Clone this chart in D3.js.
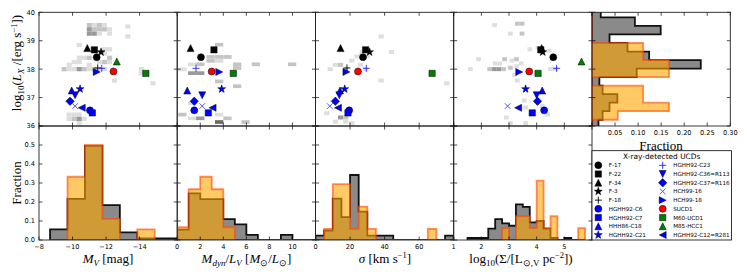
<!DOCTYPE html>
<html>
<head>
<meta charset="utf-8">
<script src="https://cdn.jsdelivr.net/npm/d3@7"></script>
<style>
body { margin: 0; background: #fff; }
svg { display: block; }
</style>
</head>
<body>
<script>
// ---------------- data ----------------
var ucdNames = ["F-17", "F-22", "F-34", "F-3", "F-18", "HGHH92-C6", "HGHH92-C7", "HHH86-C18", "HGHH92-C21",
                "HGHH92-C23", "HGHH92-C36=R113", "HGHH92-C37=R116", "HCH99-16", "HCH99-18", "SUCD1",
                "M60-UCD1", "M85-HCC1", "HGHH92-C12=R281"];
var ucdMV    = [-11.44, -11.30, -10.88, -11.70, -11.50, -11.04, -11.18, -9.95, -10.45,
                -11.74, -10.15, -9.85, -10.15, -11.44, -12.44, -14.37, -12.64, -10.55];
var ucdML    = [2.06, 3.19, 1.16, null, null, 1.48, 2.70, 0.87, 3.86,
                1.63, 2.17, 1.48, 2.17, 3.65, 2.99, 4.87, null, 3.07];
var ucdSigma = [27.5, 29.0, 14.5, 31.3, 18.2, 19.5, 18.8, 14.2, 16.9,
                29.4, 13.8, 11.5, 8.3, 17.9, 24.6, 67.5, null, 13.0];
var ucdLogSB = [4.60, 4.15, 4.18, 4.22, null, 4.27, 3.84, 4.20, 3.60,
                4.72, 4.00, 4.03, 2.95, 3.37, 3.73, 4.05, 5.62, 3.33];
var ucdLX    = [38.42, 38.68, 38.74, 38.60, 38.04, 36.55, 36.46, 37.25, 37.30,
                38.03, 37.08, 36.87, 36.70, 37.90, 37.92, 37.85, 38.27, 36.64];

// histograms: gray = all UCDs, orange = X-ray detected
var mvEdges = [-8.66, -9.70, -10.74, -11.78, -12.82, -13.86, -14.90, -15.94, -16.98];
var mvAll   = [0.056, 0.216, 0.495, 0.184, 0.040, 0.009, 0.009, 0.009];
var mvXray  = [0, 0.333, 0.5, 0.111, 0, 0.056, 0, 0];

var mlEdges = [0, 1, 2, 3, 4, 5, 6, 7, 8, 9, 10, 11, 12];
var mlAll   = [0.055, 0.245, 0.215, 0.215, 0.110, 0.082, 0.027, 0, 0, 0.027, 0, 0];
var mlXray  = [0.067, 0.267, 0.333, 0.267, 0.067, 0, 0, 0, 0, 0, 0, 0];

var sigEdges = [0, 5, 10, 15, 20, 25, 30, 35, 40, 45, 50, 55, 60, 65, 70, 75, 80];
var sigAll   = [0.023, 0.050, 0.218, 0.120, 0.342, 0.149, 0.023, 0.023, 0.023, 0, 0, 0, 0, 0, 0, 0.023];
var sigXray  = [0, 0.059, 0.294, 0.294, 0.059, 0.176, 0.059, 0, 0, 0, 0, 0, 0, 0.059, 0, 0];

var sbEdges = [1.5, 1.75, 2.0, 2.25, 2.5, 2.75, 3.0, 3.25, 3.5, 3.75, 4.0, 4.25, 4.5, 4.75, 5.0, 5.25, 5.5, 5.75];
var sbAll   = [0.0105, 0.0105, 0.0105, 0.060, 0.110, 0.088, 0.075, 0.188, 0.174, 0.093, 0.100, 0.060, 0.0105, 0, 0.0105, 0, 0];
var sbXray  = [0, 0, 0, 0, 0, 0.0625, 0, 0.125, 0.125, 0.0625, 0.3125, 0.0625, 0.125, 0, 0, 0, 0.0625];

var lxEdges = [35.92, 36.22, 36.52, 36.82, 37.12, 37.42, 37.72, 38.02, 38.32, 38.62, 38.92, 39.22, 39.52, 39.82, 40.12];
var lxAll   = [0.014, 0.023, 0.038, 0.055, 0.023, 0.016, 0.097, 0.236, 0.124, 0.077, 0.038, 0.149, 0.093, 0.019];
var lxXray  = [0, 0.056, 0.167, 0.111, 0.111, 0, 0.167, 0.167, 0.111, 0.111, 0, 0, 0, 0];

// background 2D density of all UCDs: [x, logLX, level]
var bgMVBin = [0.3, 0.15];
var bgMV = [[-11.0,39.55,2],[-11.3,39.55,1],[-11.6,39.55,2],[-11.9,39.55,1],
  [-11.0,39.4,3],[-11.3,39.4,2],[-11.6,39.4,2],[-11.9,39.4,2],[-12.2,39.4,1],
  [-11.0,39.25,3],[-11.3,39.25,3],[-11.6,39.25,1],[-12.2,39.25,1],
  [-13.3,39.5,1],[-13.3,39.15,1],[-10.4,38.85,1],[-11.9,38.7,1],[-12.2,38.7,1],
  [-10.4,38.4,1],[-10.7,38.4,1],[-11.0,38.4,2],[-11.9,38.55,1],[-12.2,38.4,2],
  [-10.1,38.25,1],[-10.4,38.25,1],[-11.6,38.25,1],[-11.9,38.25,2],[-12.2,38.25,1],
  [-9.8,38.15,1],[-11.0,38.15,1],
  [-9.5,38.0,2],[-9.8,38.0,1],[-10.1,38.0,1],[-10.4,38.0,3],[-10.7,38.0,2],[-11.0,38.0,1],
  [-11.3,38.0,2],[-11.6,38.0,1],[-11.9,38.0,1],
  [-14.1,38.0,1],[-14.1,37.85,1],[-12.5,37.6,1],[-14.8,37.5,1],
  [-9.8,36.4,1],[-10.1,36.4,1],[-10.4,36.4,1],[-9.8,36.25,1],[-10.1,36.25,2],[-10.4,36.25,3],
  [-10.7,36.25,1],[-10.4,36.1,1]];
var bgMLBin = [0.72, 0.13];
var bgML = [[3.64,38.86,2],[2.9,38.43,2],[3.64,38.43,2],[4.36,38.43,2],[2.9,38.29,2],[3.64,38.29,1],
  [1.3,38.17,1],[2.0,38.17,2],[0.45,37.99,1],[5.2,38.17,2],[5.2,38.04,2],[1.3,37.86,3],[2.0,37.86,3],
  [6.83,38.17,2],[9.97,38.17,2],[3.64,37.57,2],[5.2,37.4,2],[1.3,36.8,1],
  [0.45,36.4,2],[1.3,36.27,1],[2.0,36.27,3],[3.64,36.4,1],[4.36,36.27,2],[3.64,36.14,4],[5.93,36.14,2]];
var bgSigmaBin = [3, 0.14];
var bgSigma = [[38,39.15,1],[44,38.6,1],[27,38.6,1],[30,38.45,1],[24,38.45,1],[21,38.3,1],
  [14.5,38.15,2],[11.5,38.15,1],[17.5,38.0,1],[8.5,38.0,1],[29,38.0,1],[26,38.15,1],
  [38,37.6,1],[76,37.5,1],[6.5,36.45,1],[14.5,36.3,3],[17.5,36.3,2],[21,36.1,1],[11.5,36.15,1],[17.5,36.15,1]];
var bgLogSBBin = [0.17, 0.14];
var bgLogSB = [[2.48,39.55,1],[3.05,39.25,1],[3.3,39.6,2],[3.47,39.6,2],[3.47,39.25,2],
  [1.9,38.35,1],[2.5,38.2,1],[2.67,38.2,1],[2.84,38.35,2],
  [1.6,38.0,1],[2.3,38.0,2],[2.47,38.0,3],[2.64,38.0,3],[2.81,38.0,2],
  [3.05,38.05,2],[3.2,37.8,1],[3.1,38.3,1],[3.27,38.35,2],[3.44,38.2,1],[3.27,38.1,1],
  [3.75,38.7,1],[4.05,38.75,1],[4.45,38.65,1],[4.5,38.0,1],[4.67,38.0,1],[3.3,37.6,1],
  [3.55,36.9,1],[3.6,36.65,1],[4.2,36.7,1],[4.4,36.4,1],[2.9,36.3,1],[3.05,36.1,1],[3.6,36.1,1]];

// tick labels
var lxTicks = [36, 37, 38, 39, 40];
var frTicks = [0, 0.1, 0.2, 0.3, 0.4, 0.5];
var mvTicks = [-8, -10, -12, -14];
var mlTicks = [0, 2, 4, 6, 8, 10];
var sigTicks = [0, 20, 40, 60];
var sbTicks = [1, 2, 3, 4, 5];
var frHTicks = [0.05, 0.10, 0.15, 0.20, 0.25, 0.30];

// ---------------- styles ----------------
var ucdStyle = [["circle","#000"],["square","#000"],["triangle","#000"],["star","#000"],["plus","#000"],
  ["circle","#00f"],["square","#00f"],["triangle","#00f"],["star","#00f"],
  ["plus","#22f"],["tridown","#00f"],["diamond","#00f"],["x","#44f"],["triright","#00f"],
  ["circle","#f00"],["square","#008000"],["triangle","#008000"],["trileft","#00f"]];
var shade = [null, "#dedede", "#c4c4c4", "#999999", "#6a6a6a"];

var svg = d3.select("body").append("svg").attr("width", 747).attr("height", 280);

//layout
var colX = [39, 177.2, 315.5, 453.7, 592, 730.3];
var rowY = [12.3, 126, 240];
var tickLen = 3.5;

var xMV = d3.scaleLinear().domain([-8, -16.24]).range([colX[0], colX[1]]);
var xML = d3.scaleLinear().domain([0, 12]).range([colX[1], colX[2]]);
var xSig = d3.scaleLinear().domain([0, 80]).range([colX[2], colX[3]]);
var xSB = d3.scaleLinear().domain([1, 6]).range([colX[3], colX[4]]);
var xFr = d3.scaleLinear().domain([0, 0.3]).range([colX[4], colX[5]]);
var yLX = d3.scaleLinear().domain([36, 40]).range([rowY[1], rowY[0]]);
var yFr = d3.scaleLinear().domain([0, 0.6]).range([rowY[2], rowY[1]]);

var defs = svg.append("defs");
function clipFor(id, x0, y0, x1, y1){
    defs.append("clipPath").attr("id", id).append("rect")
        .attr("x", x0).attr("y", y0).attr("width", x1 - x0).attr("height", y1 - y0);
    return svg.append("g").attr("clip-path", "url(#" + id + ")");
}

function markerPath(type, s){
    var h = s / 2, p = "";
    if(type == "circle"){
        return d3.symbol(d3.symbolCircle, Math.PI * h * h)();
    }
    if(type == "square"){
        var a = s * 0.45;
        return "M" + (-a) + "," + (-a) + "H" + a + "V" + a + "H" + (-a) + "Z";
    }
    if(type == "diamond"){
        var d = s * 0.6;
        return "M0," + (-d) + "L" + d + ",0L0," + d + "L" + (-d) + ",0Z";
    }
    if(type == "star"){
        var R = s * 0.6, r = R * 0.4;
        for(var k = 0; k < 10; k++){
            var rr = (k % 2 == 0) ? R : r;
            var ang = -Math.PI / 2 + k * Math.PI / 5;
            p += (k == 0 ? "M" : "L") + (rr * Math.cos(ang)).toFixed(2) + "," + (rr * Math.sin(ang)).toFixed(2);
        }
        return p + "Z";
    }
    if(type == "plus"){
        return "M" + (-h) + ",0H" + h + "M0," + (-h) + "V" + h;
    }
    if(type == "x"){
        var q = s * 0.4;
        return "M" + (-q) + "," + (-q) + "L" + q + "," + q + "M" + (-q) + "," + q + "L" + q + "," + (-q);
    }
    //triangles
    var t = s * 0.5;
    return "M0," + (-t) + "L" + t + "," + t + "L" + (-t) + "," + t + "Z";
}
var triRot = {triangle: 0, tridown: 180, triright: 90, trileft: -90};

function drawMarker(g, idx, x, y){
    var st = ucdStyle[idx], type = st[0], col = st[1];
    var rot = triRot[type] !== undefined ? " rotate(" + triRot[type] + ")" : "";
    var m = g.append("path")
        .attr("d", markerPath(type, 7))
        .attr("transform", "translate(" + x + "," + y + ")" + rot);
    if(type == "plus" || type == "x"){
        m.attr("fill", "none").attr("stroke", col).attr("stroke-width", 0.9);
    } else {
        m.attr("fill", col).attr("stroke", "#000").attr("stroke-width", 0.5);
    }
}

function vHistPath(edges, vals, xs, ys){
    var p = d3.path();
    p.moveTo(xs(edges[0]), ys(0));
    for(var i = 0; i < vals.length; i++){
        p.lineTo(xs(edges[i]), ys(vals[i]));
        p.lineTo(xs(edges[i + 1]), ys(vals[i]));
    }
    p.lineTo(xs(edges[vals.length]), ys(0));
    p.closePath();
    return p.toString();
}
function hHistPath(edges, vals, xs, ys){
    var p = d3.path();
    p.moveTo(xs(0), ys(edges[0]));
    for(var i = 0; i < vals.length; i++){
        p.lineTo(xs(vals[i]), ys(edges[i]));
        p.lineTo(xs(vals[i]), ys(edges[i + 1]));
    }
    p.lineTo(xs(0), ys(edges[vals.length]));
    p.closePath();
    return p.toString();
}
function drawHists(g, dAll, dX){
    g.append("path").attr("d", dAll)
        .attr("fill", "#8a8a8a").attr("stroke", "#111").attr("stroke-width", 1.8);
    g.append("path").attr("d", dX)
        .attr("fill", "#ffa500").attr("fill-opacity", 0.6)
        .attr("stroke", "#ff4500").attr("stroke-opacity", 0.6).attr("stroke-width", 1.8);
}

function drawFrame(xs, ys, xt, yt, x0, x1, y0, y1){
    var g = svg.append("g").attr("stroke", "#000").attr("stroke-width", 0.7);
    xt.forEach(function(v){
        var x = xs(v);
        g.append("line").attr("x1", x).attr("x2", x).attr("y1", y1).attr("y2", y1 - tickLen);
        g.append("line").attr("x1", x).attr("x2", x).attr("y1", y0).attr("y2", y0 + tickLen);
    });
    yt.forEach(function(v){
        var y = ys(v);
        g.append("line").attr("x1", x0).attr("x2", x0 + tickLen).attr("y1", y).attr("y2", y);
        g.append("line").attr("x1", x1).attr("x2", x1 - tickLen).attr("y1", y).attr("y2", y);
    });
    svg.append("rect").attr("x", x0).attr("y", y0).attr("width", x1 - x0).attr("height", y1 - y0)
        .attr("fill", "none").attr("stroke", "#222").attr("stroke-width", 0.9);
}

function fmtMinus(v){ return String(v).replace("-", "\u2212"); }

var topPanels = [
    {xs: xMV, bg: bgMV, bin: bgMVBin, vals: ucdMV, edges: mvEdges, all: mvAll, xr: mvXray, ticks: [-8,-10,-12,-14], lab: mvTicks, fmt: function(v){ return fmtMinus(v); }},
    {xs: xML, bg: bgML, bin: bgMLBin, vals: ucdML, edges: mlEdges, all: mlAll, xr: mlXray, ticks: [0,2,4,6,8,10,12], lab: mlTicks, fmt: String},
    {xs: xSig, bg: bgSigma, bin: bgSigmaBin, vals: ucdSigma, edges: sigEdges, all: sigAll, xr: sigXray, ticks: [0,20,40,60,80], lab: sigTicks, fmt: String},
    {xs: xSB, bg: bgLogSB, bin: bgLogSBBin, vals: ucdLogSB, edges: sbEdges, all: sbAll, xr: sbXray, ticks: [1,2,3,4,5,6], lab: sbTicks, fmt: String}
];

topPanels.forEach(function(P, i){
    var x0 = colX[i], x1 = colX[i + 1];
    //scatter panel
    var g = clipFor("ct" + i, x0, rowY[0], x1, rowY[1]);
    P.bg.forEach(function(c){
        var xa = P.xs(c[0] - P.bin[0] / 2), xb = P.xs(c[0] + P.bin[0] / 2);
        var ya = yLX(c[1] + P.bin[1] / 2), yb = yLX(c[1] - P.bin[1] / 2);
        g.append("rect").attr("x", Math.min(xa, xb)).attr("y", ya)
            .attr("width", Math.abs(xb - xa)).attr("height", yb - ya)
            .attr("fill", shade[c[2]]);
    });
    P.vals.forEach(function(v, j){
        if(v === null) return;
        drawMarker(g, j, P.xs(v), yLX(ucdLX[j]));
    });
    drawFrame(P.xs, yLX, P.ticks, lxTicks, x0, x1, rowY[0], rowY[1]);

    //histogram panel
    var h = clipFor("cb" + i, x0, rowY[1], x1, rowY[2]);
    drawHists(h, vHistPath(P.edges, P.all, P.xs, yFr), vHistPath(P.edges, P.xr, P.xs, yFr));
    drawFrame(P.xs, yFr, P.ticks, frTicks.concat([0.6]), x0, x1, rowY[1], rowY[2]);

    svg.append("g").selectAll("text").data(P.lab).enter().append("text")
        .attr("x", function(d){ return P.xs(d); })
        .attr("y", 249.3)
        .attr("text-anchor", "middle")
        .attr("font-family", "DejaVu Sans").attr("font-size", 6.6)
        .text(P.fmt);
});

//right marginal histogram of L_X
var gr = clipFor("cr", colX[4], rowY[0], colX[5], rowY[1]);
drawHists(gr, hHistPath(lxEdges, lxAll, xFr, yLX), hHistPath(lxEdges, lxXray, xFr, yLX));
drawFrame(xFr, yLX, [0].concat(frHTicks), lxTicks, colX[4], colX[5], rowY[0], rowY[1]);
svg.append("g").selectAll("text").data(frHTicks).enter().append("text")
    .attr("x", function(d){ return xFr(d); })
    .attr("y", 135)
    .attr("text-anchor", "middle")
    .attr("font-family", "DejaVu Sans").attr("font-size", 6.6)
    .text(function(d){ return d.toFixed(2); });

//y tick labels
svg.append("g").selectAll("text").data(lxTicks).enter().append("text")
    .attr("x", 35).attr("y", function(d){ return yLX(d); }).attr("dy", "0.36em")
    .attr("text-anchor", "end")
    .attr("font-family", "DejaVu Sans").attr("font-size", 6.6)
    .text(function(d){ return d; });
svg.append("g").selectAll("text").data(frTicks).enter().append("text")
    .attr("x", 35).attr("y", function(d){ return yFr(d); }).attr("dy", "0.36em")
    .attr("text-anchor", "end")
    .attr("font-family", "DejaVu Sans").attr("font-size", 6.6)
    .text(function(d){ return d.toFixed(1); });

//math-style axis labels
function mathLabel(x, y, parts, rotate){
    var t = svg.append("text")
        .attr("transform", "translate(" + x + "," + y + ")" + (rotate ? " rotate(-90)" : ""))
        .attr("text-anchor", "middle")
        .attr("font-family", "Liberation Serif, serif").attr("font-size", 13);
    var cur = 0;
    parts.forEach(function(p){
        var mode = p[1], off = 0, fs = 13;
        if(mode == "sub" || mode == "subi"){ off = 3.2; fs = 9; }
        if(mode == "sup"){ off = -4.2; fs = 8.5; }
        var s = t.append("tspan").attr("dy", off - cur).attr("font-size", fs).text(p[0]);
        if(mode == "i" || mode == "subi") s.attr("font-style", "italic");
        cur = off;
    });
    if(cur != 0) t.append("tspan").attr("dy", -cur).text("\u200b");
}

mathLabel(21, 63, [["log","n"],["10","sub"],["(","n"],["L","i"],["X","subi"],[" /[erg s","n"],["\u22121","sup"],["])","n"]], true);
mathLabel(21, 183, [["Fraction","n"]], true);
mathLabel(108, 262.5, [["M","i"],["V","subi"],[" [mag]","n"]], false);
mathLabel(246.5, 262.5, [["M","i"],["dyn","subi"],["/","n"],["L","i"],["V","subi"],[" [","n"],["M","i"],["\u2299","sub"],["/","n"],["L","i"],["\u2299","sub"],["]","n"]], false);
mathLabel(385, 262.5, [["\u03c3","i"],[" [km s","n"],["\u22121","sup"],["]","n"]], false);
mathLabel(521, 262.5, [["log","n"],["10","sub"],["(\u03a3/[L","n"],["\u2299,V","sub"],[" pc","n"],["\u22122","sup"],["])","n"]], false);
mathLabel(661, 149.5, [["Fraction","n"]], false);

//legend
var lg = svg.append("g");
lg.append("rect").attr("x", 592).attr("y", 150.7).attr("width", 139.5).attr("height", 89.3)
    .attr("fill", "#fff").attr("stroke", "#000").attr("stroke-width", 0.8);
lg.append("text").attr("x", 661.7).attr("y", 159.3).attr("text-anchor", "middle")
    .attr("font-family", "DejaVu Sans").attr("font-size", 7.4)
    .text("X-ray-detected UCDs");
ucdNames.forEach(function(name, j){
    var col = j < 9 ? 0 : 1, row = j % 9;
    var mx = col == 0 ? 598.3 : 662.7;
    var my = 165.3 + row * 8.71;
    drawMarker(lg, j, mx, my);
    lg.append("text").attr("x", mx + 10.5).attr("y", my).attr("dy", "0.36em")
        .attr("font-family", "DejaVu Sans").attr("font-size", 5.6)
        .text(name);
});
</script>
</body>
</html>
